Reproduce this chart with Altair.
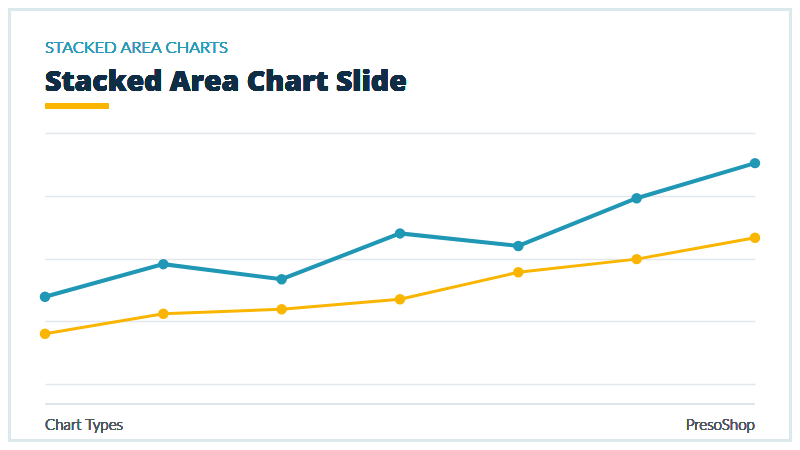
import altair as alt
import pandas as pd

# values
periods = ["P1", "P2", "P3", "P4", "P5", "P6", "P7"]
upper = [13.9, 19.1, 16.7, 24.0, 22.0, 29.6, 35.2]   # teal series
lower = [8.0, 11.2, 11.9, 13.5, 17.8, 19.9, 23.3]    # yellow series
series_names = ["Upper", "Lower"]
series_colors = ["#1f97b5", "#f9b500"]

df = pd.DataFrame({
    "period": periods * 2,
    "value": upper + lower,
    "series": [series_names[0]] * len(periods) + [series_names[1]] * len(periods),
})

W, H = 710, 251
TITLE_FONT = "Open Sans"
BODY_FONT = "Lato"

x = alt.X("period:O", sort=periods, scale=alt.Scale(type="point", padding=0), axis=None)
y = alt.Y("value:Q", scale=alt.Scale(domain=[0, 40], nice=False),
          axis=alt.Axis(values=[0, 10, 20, 30, 40], labels=False, ticks=False,
                        domain=False, title=None, grid=True,
                        gridColor="#e1e7eb", gridWidth=1.5))
color = alt.Color("series:N", scale=alt.Scale(domain=series_names, range=series_colors), legend=None)

base = alt.Chart(df)
teal_line = base.transform_filter(alt.datum.series == "Upper").mark_line(strokeWidth=4).encode(x=x, y=y, color=color)
yellow_line = base.transform_filter(alt.datum.series == "Lower").mark_line(strokeWidth=3).encode(x=x, y=y, color=color)
pts = base.mark_circle(size=110, opacity=1).encode(x=x, y=y, color=color)

# slide decorations
border = alt.Chart(df).mark_rect(fill=None, stroke="#dbe8ec", strokeWidth=3).encode(
    x=alt.value(-35.5), x2=alt.value(745.5), y=alt.value(-123.5), y2=alt.value(307.5))
underline = alt.Chart(df).mark_rule(color="#f9b500", strokeWidth=6, strokeCap="round").encode(
    x=alt.value(3), x2=alt.value(61), y=alt.value(-27))
footer_line = alt.Chart(df).mark_rule(color="#dfe4e8", strokeWidth=1.5).encode(
    x=alt.value(0), x2=alt.value(W), y=alt.value(271))

kicker = alt.Chart(df).mark_text(text="STACKED AREA CHARTS", align="left", baseline="alphabetic",
                                 font=BODY_FONT, fontSize=16.5, fontWeight=300, color="#2a9bb6").encode(
    x=alt.value(0), y=alt.value(-80.5))
title = alt.Chart(df).mark_text(text="Stacked Area Chart Slide", align="left", baseline="alphabetic",
                                font=TITLE_FONT, fontSize=28.5, fontWeight=800, color="#0f2d45").encode(
    x=alt.value(0), y=alt.value(-42))
foot_left = alt.Chart(df).mark_text(text="Chart Types", align="left", baseline="alphabetic",
                                    font=BODY_FONT, fontSize=15.2, fontWeight=300, color="#4d5661").encode(
    x=alt.value(0), y=alt.value(297))
foot_right = alt.Chart(df).mark_text(text="PresoShop", align="right", baseline="alphabetic",
                                     font=BODY_FONT, fontSize=15.2, fontWeight=300, color="#4d5661").encode(
    x=alt.value(W), y=alt.value(297))

chart = alt.layer(
    border, footer_line, teal_line, yellow_line, pts,
    underline, kicker, title, foot_left, foot_right,
).properties(
    width=W, height=H,
    autosize=alt.AutoSizeParams(type="none"),
    padding={"left": 37, "top": 125, "right": 37, "bottom": 58},
    background="white",
).configure_view(stroke=None)

chart.save("out.html", embed_options={"renderer": "svg", "actions": False})
